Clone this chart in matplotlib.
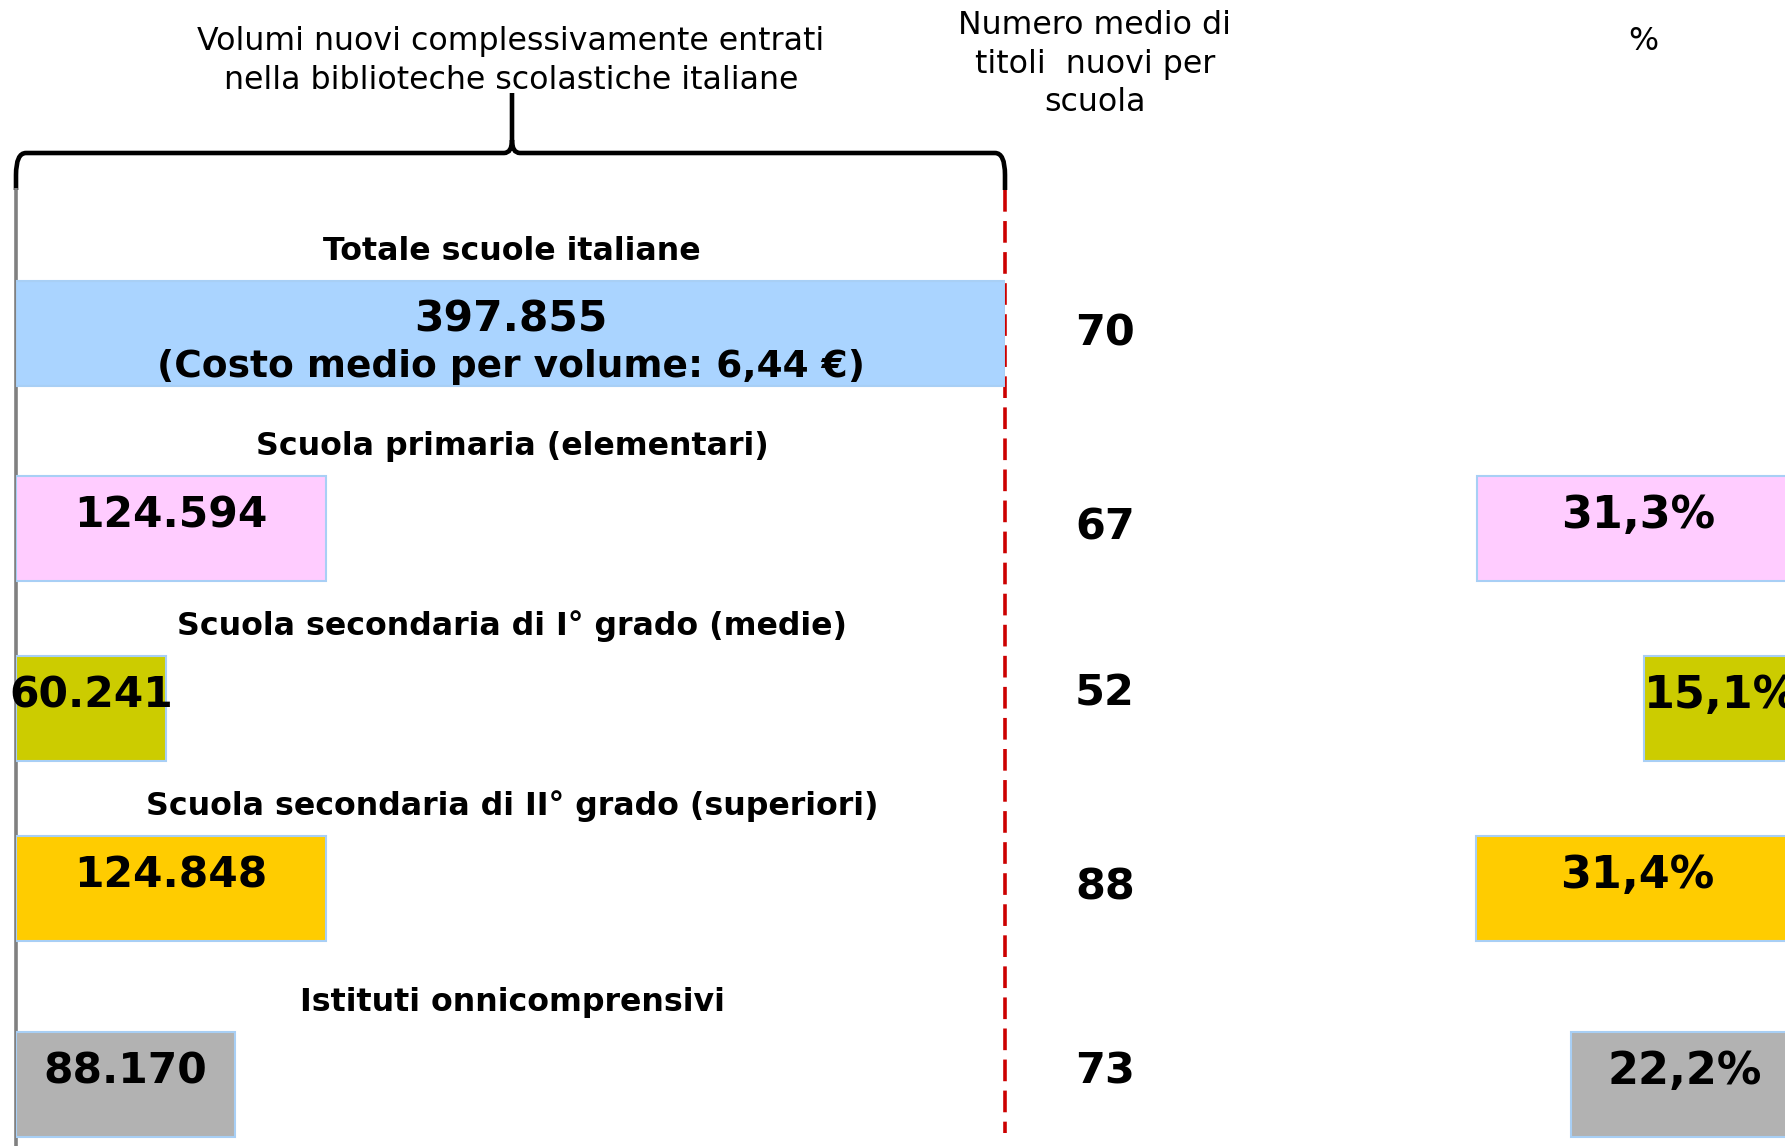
import numpy as np
import matplotlib
matplotlib.use("Agg")
import matplotlib.pyplot as plt
from matplotlib.path import Path
from matplotlib.patches import PathPatch

# data
categories = ["Totale scuole italiane",
              "Scuola primaria (elementari)",
              "Scuola secondaria di I° grado (medie)",
              "Scuola secondaria di II° grado (superiori)",
              "Istituti onnicomprensivi"]
volumes = [397855, 124594, 60241, 124848, 88170]
volume_labels = ["397.855", "124.594", "60.241", "124.848", "88.170"]
titles_per_school = [70, 67, 52, 88, 73]
pct_values = [None, 31.3, 15.1, 31.4, 22.2]
pct_labels = [None, "31,3%", "15,1%", "31,4%", "22,2%"]
cost_note = "(Costo medio per volume: 6,44 €)"

colors = ["#AAD4FF", "#FFCCFF", "#CCCC00", "#FFCC00", "#B2B2B2"]
edge = "#A8CFF5"

W, H = 1785, 1146
row_y = [333, 528, 708, 888, 1084]      # layout, pixel rows
bar_h = 105
x0, x1 = 16, 1005                       # volume bars area

fig = plt.figure(figsize=(W / 100, H / 100), dpi=100)
bg = fig.add_axes([0, 0, 1, 1])
bg.set_xlim(0, W)
bg.set_ylim(H, 0)
bg.axis("off")

# volume bars
ax_vol = fig.add_axes([x0 / W, 0, (x1 - x0) / W, 1])
ax_vol.set_xlim(0, volumes[0])
ax_vol.set_ylim(H, 0)
ax_vol.axis("off")
ax_vol.barh(row_y, volumes, height=bar_h, color=colors, edgecolor=edge, linewidth=1.5)
for i, (y, v) in enumerate(zip(row_y, volumes)):
    if i == 0:
        ax_vol.text(v / 2, y - 14, volume_labels[i], ha="center", va="center",
                    fontsize=30.5, fontweight="bold")
        ax_vol.text(v / 2, y + 34, cost_note, ha="center", va="center",
                    fontsize=27, fontweight="bold")
    else:
        ax_vol.text(v / 2, y - 12, volume_labels[i], ha="center", va="center",
                    fontsize=30.5, fontweight="bold")

# category labels
for y, c in zip(row_y, categories):
    bg.text(512, y - 82, c, ha="center", va="center", fontsize=22.8, fontweight="bold")

# percentage bars, anchored to the right edge
px_per_pct = 10.29
right_px = 1799
span = 35
ax_pct = fig.add_axes([(right_px - px_per_pct * span) / W, 0, px_per_pct * span / W, 1])
ax_pct.set_xlim(span, 0)
ax_pct.set_ylim(H, 0)
ax_pct.axis("off")
for y, p, lab, col in zip(row_y, pct_values, pct_labels, colors):
    if p is None:
        continue
    ax_pct.barh(y, p, height=bar_h, color=col, edgecolor=edge, linewidth=1.5, clip_on=False)
    ax_pct.text(p / 2, y - 12, lab, ha="center", va="center", fontsize=32,
                fontweight="bold", clip_on=False)

# middle column numbers
mid_y = [334, 528, 693, 888, 1071]
for y, n in zip(mid_y, titles_per_school):
    bg.text(1075, y, str(n), ha="left", va="center", fontsize=31, fontweight="bold")

# headers
bg.text(511, 61, "Volumi nuovi complessivamente entrati\nnella biblioteche scolastiche italiane",
        ha="center", va="center", fontsize=22.8, linespacing=1.32)
bg.text(1095, 64, "Numero medio di\ntitoli  nuovi per\nscuola",
        ha="center", va="center", fontsize=22.8, linespacing=1.32)
bg.text(1643, 42, "%", ha="center", va="center", fontsize=22.8)

# vertical lines
bg.plot([x0, x0], [188, H], color="#808080", lw=2.6, solid_capstyle="butt")
bg.plot([x1, x1], [190, 1133], color="#CC0000", lw=2.6, dashes=(6, 2.6))

# brace
tip_x, top_y, bar_y, end_y = 512, 93, 153, 190
verts = [(x0, end_y), (x0, 175), (x0, bar_y), (x0 + 10, bar_y),
         (tip_x - 8, bar_y), (tip_x, bar_y), (tip_x, 140), (tip_x, top_y),
         (tip_x, 140), (tip_x, bar_y), (tip_x + 8, bar_y),
         (x1 - 10, bar_y), (x1, bar_y), (x1, 175), (x1, end_y)]
codes = [Path.MOVETO, Path.LINETO, Path.CURVE3, Path.CURVE3,
         Path.LINETO, Path.CURVE3, Path.CURVE3, Path.LINETO,
         Path.MOVETO, Path.CURVE3, Path.CURVE3,
         Path.LINETO, Path.CURVE3, Path.CURVE3, Path.LINETO]
bg.add_patch(PathPatch(Path(verts, codes), fill=False, lw=3.3, color="black"))

fig.savefig("out.png", dpi=100)
